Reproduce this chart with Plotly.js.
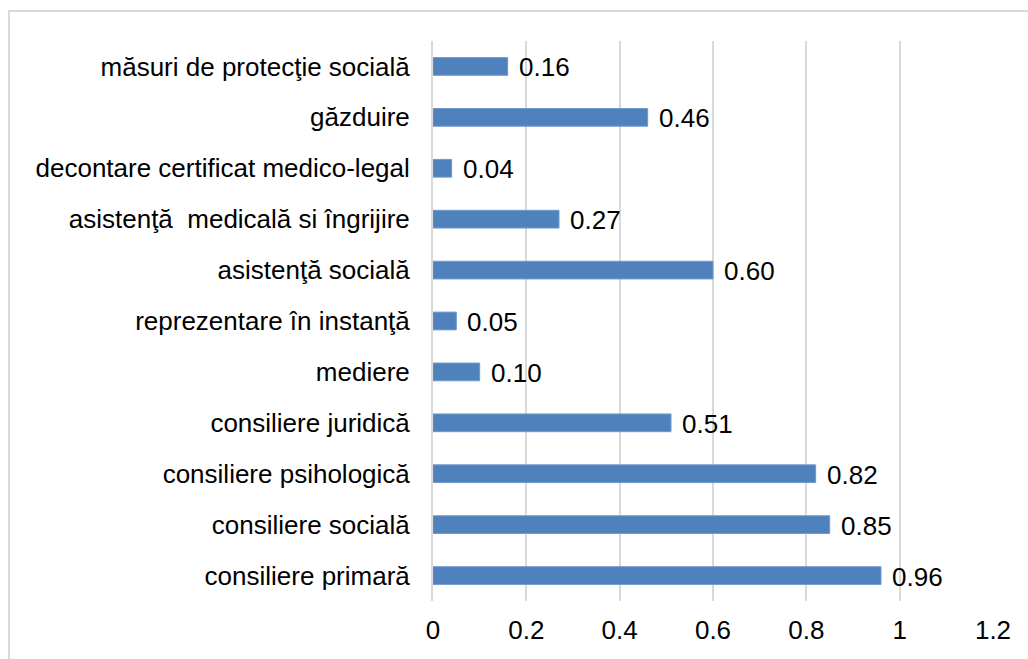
<!DOCTYPE html>
<html>
<head>
<meta charset="utf-8">
<script src="https://cdn.plot.ly/plotly-3.0.1.min.js"></script>
<style>
  html, body { margin: 0; padding: 0; background: #fff; overflow: hidden; }
  #grafic { width: 1028px; height: 659px; }
  #rama {
    position: absolute; left: 8px; top: 10px; width: 1100px; height: 700px;
    border-left: 2px solid #d9d9d9; border-top: 2px solid #d9d9d9;
    pointer-events: none;
  }
</style>
</head>
<body>
<div id="grafic"></div>
<div id="rama"></div>
<script>
// categorii de sus in jos, asa cum apar in grafic
const categorii = [
    "măsuri de protecţie socială",
    "găzduire",
    "decontare certificat medico-legal",
    "asistenţă  medicală si îngrijire",
    "asistenţă socială",
    "reprezentare în instanţă",
    "mediere",
    "consiliere juridică",
    "consiliere psihologică",
    "consiliere socială",
    "consiliere primară"
];
const valori = [0.16, 0.46, 0.04, 0.27, 0.60, 0.05, 0.10, 0.51, 0.82, 0.85, 0.96];
const etichete = ["0.16", "0.46", "0.04", "0.27", "0.60", "0.05", "0.10", "0.51", "0.82", "0.85", "0.96"];
const valoriTick = [0, 0.2, 0.4, 0.6, 0.8, 1, 1.2];
const textTick = ["0", "0.2", "0.4", "0.6", "0.8", "1", "1.2"];

const font = "Liberation Sans, Arial, sans-serif";

const bare = {
    type: "bar",
    orientation: "h",
    x: valori,
    y: categorii,
    marker: { color: "#4f81bd", line: { color: "#6f99cf", width: 1 } },
    hoverinfo: "x+y"
};

// etichetele de valoare, puse la capatul fiecarei bare
const adnotari = categorii.map((c, i) => ({
    x: valori[i],
    y: c,
    xref: "x",
    yref: "y",
    text: etichete[i],
    showarrow: false,
    xanchor: "left",
    xshift: 9,
    yshift: -1,
    font: { family: font, size: 26, color: "#000" }
}));

const layout = {
    width: 1028,
    height: 659,
    margin: { l: 433, r: 35, t: 41, b: 58 },
    paper_bgcolor: "white",
    plot_bgcolor: "white",
    showlegend: false,
    bargap: 0.652,
    font: { family: font, size: 26, color: "#000" },
    xaxis: {
        range: [0, 1.2],
        tickvals: valoriTick,
        ticktext: textTick,
        showgrid: true,
        gridcolor: "#d9d9d9",
        gridwidth: 2,
        zeroline: false,
        showline: false,
        ticks: "",
        ticklabelstandoff: 11,
        tickfont: { family: font, size: 26, color: "#000" }
    },
    yaxis: {
        autorange: "reversed",
        showline: true,
        linecolor: "#d9d9d9",
        linewidth: 2,
        showgrid: false,
        zeroline: false,
        ticks: "",
        ticklabelstandoff: 16,
        tickfont: { family: font, size: 26, color: "#000" }
    },
    annotations: adnotari
};

Plotly.newPlot("grafic", [bare], layout, { displayModeBar: false, staticPlot: true });
</script>
</body>
</html>
